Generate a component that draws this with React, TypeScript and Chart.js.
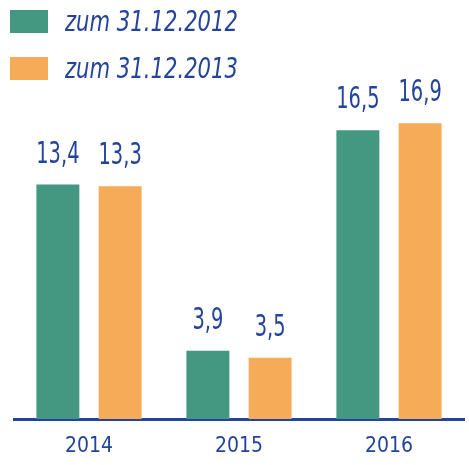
import React, { useEffect, useRef } from "react";
import { Chart, registerables } from "chart.js";

Chart.register(...registerables);

const categories = ["2014", "2015", "2016"];
const series2012 = [13.4, 3.9, 16.5];
const series2013 = [13.3, 3.5, 16.9];
const seriesLabels = ["zum 31.12.2012", "zum 31.12.2013"];

const TEAL = "rgb(68,152,130)";
const ORANGE = "rgb(246,171,88)";
const INK = "#23449a";
const FONT = "'DejaVu Sans Condensed', 'Liberation Sans', sans-serif";

const drawScaledText = (ctx: any, text: string, x: number, y: number, sx: number) => {
  ctx.save();
  ctx.translate(x, y);
  ctx.scale(sx, 1);
  ctx.fillText(text, 0, 0);
  ctx.restore();
};

const legendPlugin = {
  id: "customLegend",
  afterDraw(chart: any) {
    const ctx = chart.ctx;
    ctx.save();
    chart.data.datasets.forEach((ds: any, i: number) => {
      const y = 10 + i * 47;
      ctx.fillStyle = ds.backgroundColor;
      ctx.fillRect(10, y, 38, 23);
      ctx.fillStyle = INK;
      ctx.font = `italic 28px ${FONT}`;
      ctx.textBaseline = "alphabetic";
      ctx.textAlign = "left";
      drawScaledText(ctx, ds.label, 65, y + 21, 0.84);
    });
    ctx.restore();
  },
};

const valueLabelPlugin = {
  id: "valueLabels",
  afterDatasetsDraw(chart: any) {
    const ctx = chart.ctx;
    ctx.save();
    ctx.fillStyle = INK;
    ctx.font = `30px ${FONT}`;
    ctx.textAlign = "center";
    ctx.textBaseline = "alphabetic";
    chart.data.datasets.forEach((ds: any, di: number) => {
      const meta = chart.getDatasetMeta(di);
      meta.data.forEach((bar: any, idx: number) => {
        const v = ds.data[idx];
        drawScaledText(ctx, String(v).replace(".", ","), bar.x, bar.y - 22, 0.72);
      });
    });
    ctx.restore();
  },
};

export default function App() {
  const ref = useRef<HTMLCanvasElement>(null);
  useEffect(() => {
    if (!ref.current) return;
    const chart = new Chart(ref.current, {
      type: "bar",
      data: {
        labels: categories,
        datasets: [
          { label: seriesLabels[0], data: series2012, backgroundColor: TEAL },
          { label: seriesLabels[1], data: series2013, backgroundColor: ORANGE },
        ],
      },
      options: {
        animation: false,
        responsive: true,
        maintainAspectRatio: false,
        layout: { padding: { top: 69, left: 14, right: 5, bottom: -9 } },
        plugins: { legend: { display: false }, tooltip: { enabled: false } },
        datasets: { bar: { categoryPercentage: 0.83, barPercentage: 0.69 } },
        scales: {
          x: {
            grid: { display: false, drawTicks: false },
            border: { display: true, color: INK, width: 3 },
            ticks: { color: INK, font: { family: FONT, size: 21, lineHeight: 1 }, padding: 17 },
          },
          y: { display: false, min: 0, max: 20 },
        },
      },
      plugins: [legendPlugin, valueLabelPlugin],
    });
    return () => chart.destroy();
  }, []);
  return (
    <div style={{ position: "fixed", left: 0, top: 0, width: 469, height: 465, background: "#fff" }}>
      <canvas ref={ref} />
    </div>
  );
}
